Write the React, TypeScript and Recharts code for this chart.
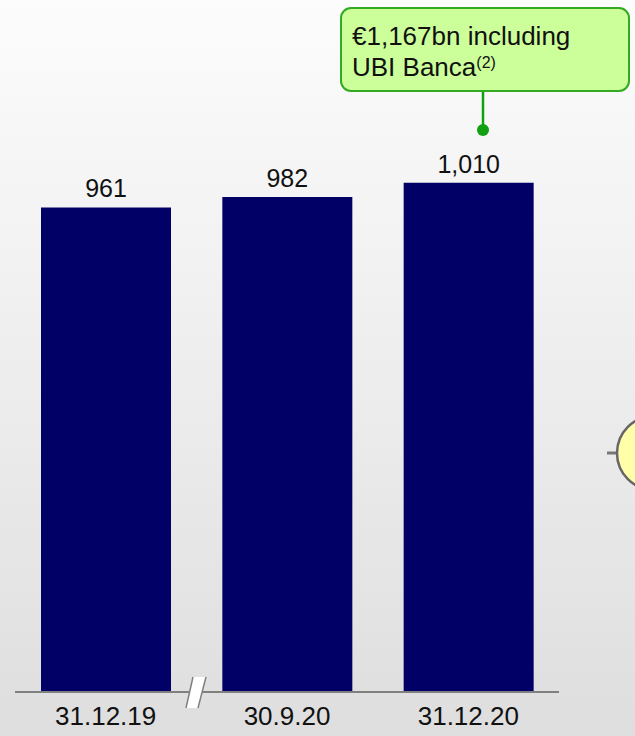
import React from 'react';
import { BarChart, Bar, XAxis, YAxis, LabelList } from 'recharts';

const periods = ['31.12.19', '30.9.20', '31.12.20'];
const deposits = [961, 982, 1010];
const calloutLines = ['€1,167bn including', 'UBI Banca'];
const calloutNote = '(2)';

const data = periods.map((p, i) => ({ period: p, value: deposits[i] }));

const FONT = '"Liberation Sans", Arial, sans-serif';

const fmt = (v: number) => v.toLocaleString('en-US');

const App: React.FC = () => {
  return (
    <div
      style={{
        position: 'absolute',
        top: 0,
        left: 0,
        width: 635,
        height: 736,
        overflow: 'hidden',
        background: 'linear-gradient(to bottom, #fcfcfc 0%, #ececec 55%, #dedede 100%)',
        fontFamily: FONT,
      }}
    >
      <BarChart
        width={635}
        height={736}
        data={data}
        margin={{ top: 87, right: 76, bottom: 0, left: 15 }}
        style={{ position: 'absolute', top: 0, left: 0 }}
      >
        <XAxis
          dataKey="period"
          axisLine={{ stroke: '#808080', strokeWidth: 2 }}
          tickLine={false}
          tickMargin={9}
          height={44}
          tick={{ fill: '#111', fontSize: 26, fontFamily: FONT }}
        />
        <YAxis hide domain={[0, 1200]} />
        <Bar dataKey="value" fill="#000066" barSize={130} isAnimationActive={false}>
          <LabelList
            dataKey="value"
            position="top"
            offset={10}
            formatter={(v: any) => fmt(Number(v))}
            style={{ fill: '#111', fontSize: 25, fontFamily: FONT }}
          />
        </Bar>
      </BarChart>
      <svg
        width={635}
        height={736}
        style={{ position: 'absolute', top: 0, left: 0, pointerEvents: 'none' }}
      >
        {/* callout */}
        <line x1={483} y1={91} x2={483} y2={130} stroke="#11a011" strokeWidth={2.5} />
        <circle cx={483} cy={130} r={6} fill="#11a011" />
        <rect x={341} y={8} width={288} height={83} rx={10} ry={10} fill="#ccff99" stroke="#33aa22" strokeWidth={2} />
        <text x={352} y={45} fontSize={26} fill="#111" fontFamily={FONT}>{calloutLines[0]}</text>
        <text x={352} y={76} fontSize={26} fill="#111" fontFamily={FONT}>
          {calloutLines[1]}
          <tspan fontSize={16} dy={-8}>{calloutNote}</tspan>
        </text>
        {/* axis break */}
        <polygon points="186,708 193,677 206,677 198,708" fill="#ffffff" stroke="none" />
        <line x1={186} y1={708} x2={193} y2={677} stroke="#808080" strokeWidth={1.5} />
        <line x1={198} y1={708} x2={206} y2={677} stroke="#808080" strokeWidth={1.5} />
        {/* connector to next panel */}
        <line x1={607} y1={453} x2={616} y2={453} stroke="#777" strokeWidth={3} />
        <circle cx={654} cy={453} r={37} fill="#ffffaa" stroke="#666" strokeWidth={2.5} />
      </svg>
    </div>
  );
};

export default App;
